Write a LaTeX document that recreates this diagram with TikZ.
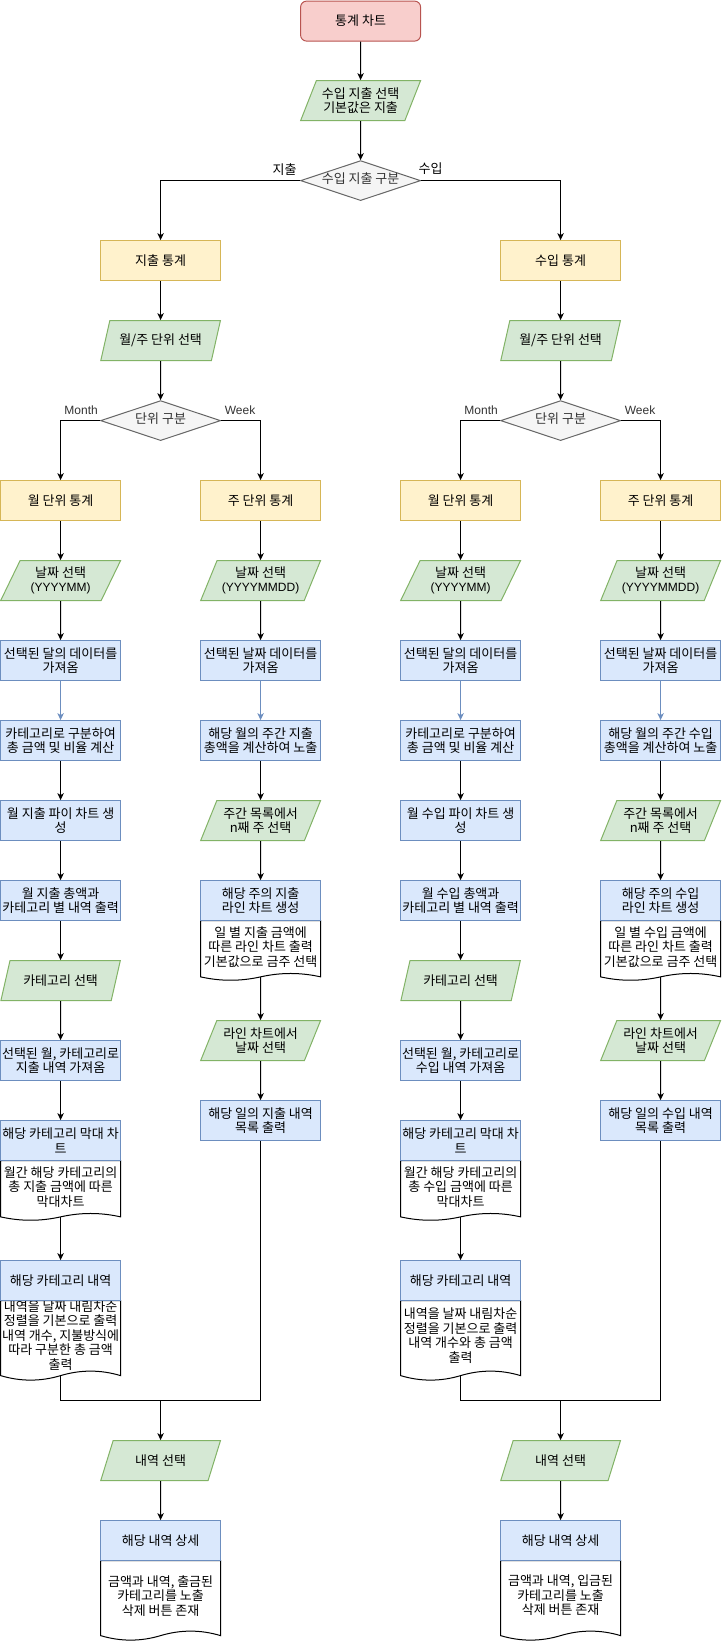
\documentclass[tikz,border=0pt]{standalone}
\usepackage{fontspec}
\setmainfont{Noto Sans CJK KR}
\newfontfamily\latf{Liberation Sans}
\newcommand\lat{\latf\fontsize{12}{14.5}\selectfont}
\usetikzlibrary{shapes.geometric,arrows.meta,calc}
\pgfdeclarelayer{bg}
\pgfsetlayers{bg,main}
\definecolor{redF}{HTML}{F8CECC}\definecolor{redD}{HTML}{B85450}
\definecolor{yelF}{HTML}{FFF2CC}\definecolor{yelD}{HTML}{D6B656}
\definecolor{bluF}{HTML}{DAE8FC}\definecolor{bluD}{HTML}{6C8EBF}
\definecolor{grnF}{HTML}{D5E8D4}\definecolor{grnD}{HTML}{82B366}
\definecolor{gryF}{HTML}{F5F5F5}\definecolor{gryD}{HTML}{666666}\definecolor{gryT}{HTML}{333333}
\tikzset{
  base/.style={minimum width=120pt, minimum height=40pt, inner sep=1pt, align=center,
    font=\fontsize{13}{14.5}\selectfont, line width=1pt},
  startbox/.style={base, rectangle, rounded corners=6pt, draw=redD, fill=redF},
  statbox/.style={base, rectangle, draw=yelD, fill=yelF},
  procbox/.style={base, rectangle, draw=bluD, fill=bluF},
  iobox/.style={base, trapezium, trapezium left angle=63.43, trapezium right angle=116.57,
    trapezium stretches=true, draw=grnD, fill=grnF},
  decbox/.style={base, diamond, aspect=3, draw=gryD, fill=gryF, text=gryT, inner sep=0pt,
    text height=9pt, text depth=3pt},
  doctext/.style={base, draw=none, minimum height=10pt},
  docline/.style={draw=black, fill=white, line width=1pt},
  conn/.style={line width=1pt, -{Stealth[length=7pt,width=6.5pt,inset=2pt]}},
  bconn/.style={conn, draw=bluD},
  plain/.style={line width=1pt},
  lbl/.style={inner sep=0pt, font=\fontsize{13}{14.5}\selectfont}
}
% name, cx, top, height, text
\newcommand\docnode[5]{%
  \pgfmathsetmacro\dd{#4/8}%
  \pgfmathsetmacro\yb{#3+#4-\dd/2}%
  \pgfmathsetmacro\cx{#2}%
  \begin{pgfonlayer}{bg}
  \draw[docline] ({\cx-60},#3) -- ({\cx+60},#3) -- ({\cx+60},\yb)
    .. controls ({\cx+40},{\yb-0.6*\dd}) and ({\cx+20},{\yb-0.6*\dd}) .. (\cx,\yb)
    .. controls ({\cx-20},{\yb+0.6*\dd}) and ({\cx-40},{\yb+0.6*\dd}) .. ({\cx-60},\yb) -- cycle;
  \end{pgfonlayer}
  \node[doctext] (#1) at (\cx,{#3+(#4-\dd)/2}) {#5};
  \coordinate (#1-b) at (\cx,\yb);
}
% prefix, x offset, word, title, list doc text, detail doc text
\newcommand\side[6]{%
  \node[statbox] (#1stat) at ({#2+160},260) {#4};
  \node[iobox] (#1unit) at ({#2+160},340) {월/주 단위 선택};
  \node[decbox] (#1dec) at ({#2+160},420) {단위 구분};
  \node[statbox] (#1mstat) at ({#2+60},500) {월 단위 통계};
  \node[statbox] (#1wstat) at ({#2+260},500) {주 단위 통계};
  \node[lbl, text=gryT] (#1lm) at ({#2+80.5},410) {\lat Month};
  \node[lbl, text=gryT] (#1lw) at ({#2+239.5},410) {\lat Week};
  % month column
  \node[iobox] (#1mdate) at ({#2+60},580) {날짜 선택\\{\lat (YYYYMM)}};
  \node[procbox] (#1mfetch) at ({#2+60},660) {선택된 달의 데이터를\\가져옴};
  \node[procbox] (#1mcalc) at ({#2+60},740) {카테고리로 구분하여\\총 금액 및 비율 계산};
  \node[procbox] (#1mpie) at ({#2+60},820) {월 #3 파이 차트 생\\성};
  \node[procbox] (#1mtotal) at ({#2+60},900) {월 #3 총액과\\카테고리 별 내역 출력};
  \node[iobox] (#1mcat) at ({#2+60},980) {카테고리 선택};
  \node[procbox] (#1mfetch2) at ({#2+60},1060) {선택된 월, 카테고리로\\#3 내역 가져옴};
  \node[procbox] (#1mbar) at ({#2+60},1140) {해당 카테고리 막대 차\\트};
  \docnode{#1mbardoc}{#2+60}{1160}{60}{월간 해당 카테고리의\\총 #3 금액에 따른\\막대차트}
  \docnode{#1mlistdoc}{#2+60}{1300}{80}{#5}
  \node[procbox] (#1mlist) at ({#2+60},1280) {해당 카테고리 내역};
  % week column
  \node[iobox] (#1wdate) at ({#2+260},580) {날짜 선택\\{\lat (YYYYMMDD)}};
  \node[procbox] (#1wfetch) at ({#2+260},660) {선택된 날짜 데이터를\\가져옴};
  \node[procbox] (#1wcalc) at ({#2+260},740) {해당 월의 주간 #3\\총액을 계산하여 노출};
  \node[iobox] (#1wsel) at ({#2+260},820) {주간 목록에서\\n째 주 선택};
  \node[procbox] (#1wline) at ({#2+260},900) {해당 주의 #3\\라인 차트 생성};
  \docnode{#1wlinedoc}{#2+260}{920}{60}{일 별 #3 금액에\\따른 라인 차트 출력\\기본값으로 금주 선택}
  \node[iobox] (#1wdsel) at ({#2+260},1040) {라인 차트에서\\날짜 선택};
  \node[procbox] (#1wlist) at ({#2+260},1120) {해당 일의 #3 내역\\목록 출력};
  % bottom
  \coordinate (#1join) at ({#2+160},1400);
  \node[iobox] (#1sel) at ({#2+160},1460) {내역 선택};
  \node[procbox] (#1detail) at ({#2+160},1540) {해당 내역 상세};
  \docnode{#1detaildoc}{#2+160}{1560}{80}{#6}
  % connectors
  \draw[conn] (#1stat) -- (#1unit);
  \draw[conn] (#1unit) -- (#1dec);
  \draw[conn] (#1dec.west) -| (#1mstat);
  \draw[conn] (#1dec.east) -| (#1wstat);
  \draw[conn] (#1mstat) -- (#1mdate);
  \draw[conn] (#1mdate) -- (#1mfetch);
  \draw[bconn] (#1mfetch) -- (#1mcalc);
  \draw[conn] (#1mcalc) -- (#1mpie);
  \draw[conn] (#1mpie) -- (#1mtotal);
  \draw[conn] (#1mtotal) -- (#1mcat);
  \draw[conn] (#1mcat) -- (#1mfetch2);
  \draw[conn] (#1mfetch2) -- (#1mbar);
  \draw[conn] (#1mbardoc-b) -- (#1mlist);
  \draw[conn] (#1wstat) -- (#1wdate);
  \draw[conn] (#1wdate) -- (#1wfetch);
  \draw[bconn] (#1wfetch) -- (#1wcalc);
  \draw[conn] (#1wcalc) -- (#1wsel);
  \draw[conn] (#1wsel) -- (#1wline);
  \draw[conn] (#1wlinedoc-b) -- (#1wdsel);
  \draw[conn] (#1wdsel) -- (#1wlist);
  \draw[plain] (#1mlistdoc-b) |- (#1join);
  \draw[plain] (#1wlist) |- (#1join);
  \draw[conn] (#1join) -- (#1sel);
  \draw[conn] (#1sel) -- (#1detail);
}
\begin{document}
\begin{tikzpicture}[x=1pt,y=-1pt]
\useasboundingbox (0,0) rectangle (722,1642);
\begin{scope}[shift={(0.6,0.6)}]
\node[startbox] (start) at (360,20.5) {통계 차트};
\node[iobox] (io1) at (360,100) {수입 지출 선택\\기본값은 지출};
\node[decbox] (dec1) at (360,180) {수입 지출 구분};
\node[lbl] (lexp) at (284,168.5) {지출};
\node[lbl] (linc) at (430,168.5) {수입};
\side{e}{0}{지출}{지출 통계}{내역을 날짜 내림차순\\정렬을 기본으로 출력\\내역 개수, 지불방식에\\따라 구분한 총 금액\\출력}{금액과 내역, 출금된\\카테고리를 노출\\삭제 버튼 존재}
\side{i}{400}{수입}{수입 통계}{내역을 날짜 내림차순\\정렬을 기본으로 출력\\내역 개수와 총 금액\\출력}{금액과 내역, 입금된\\카테고리를 노출\\삭제 버튼 존재}
\draw[conn] (start) -- (io1);
\draw[conn] (io1) -- (dec1);
\draw[conn] (dec1.west) -| (estat);
\draw[conn] (dec1.east) -| (istat);
\end{scope}
\end{tikzpicture}
\end{document}
